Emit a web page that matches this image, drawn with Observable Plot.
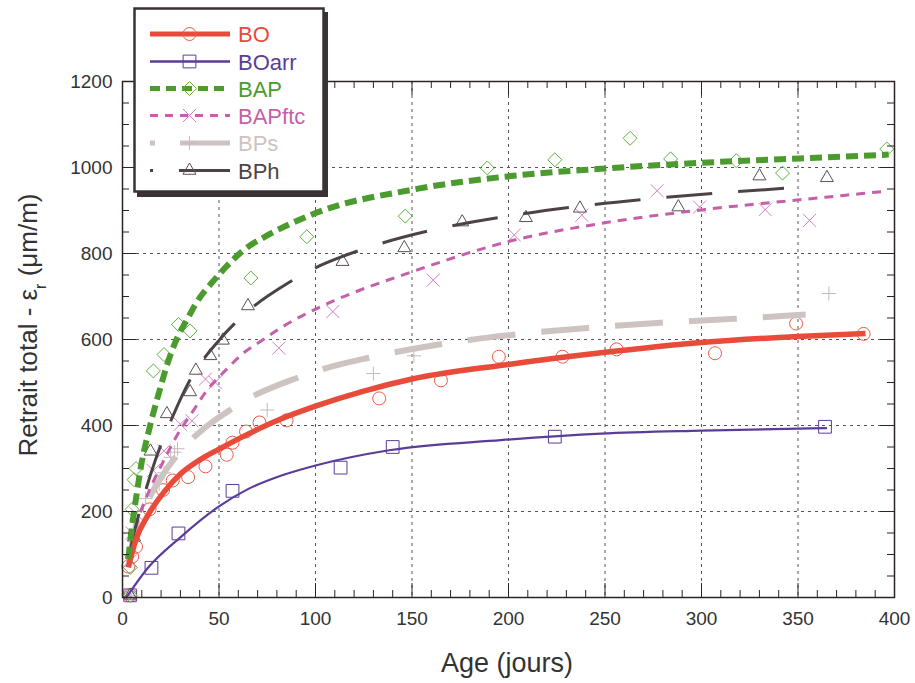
<!DOCTYPE html>
<html><head><meta charset="utf-8">
<script src="https://cdn.jsdelivr.net/npm/d3@7"></script>
<script src="https://cdn.jsdelivr.net/npm/@observablehq/plot@0.6"></script>
<style>
body{margin:0;background:#fff;}
#wrap{position:relative;width:915px;height:683px;overflow:hidden;}
#wrap svg{display:block;}
#legend{position:absolute;left:0;top:0;pointer-events:none;}
</style></head><body><div id="wrap"></div>
<script>
// ---- data ----
const seriesNames = ["BO", "BOarr", "BAP", "BAPftc", "BPs", "BPh"];
const xMajor = [0, 50, 100, 150, 200, 250, 300, 350, 400];
const yMajor = [0, 200, 400, 600, 800, 1000, 1200];

// measured points
const boAge = [4, 3, 5, 7, 14, 21, 26, 34, 43, 54, 57, 64, 71, 85, 133, 165, 195, 228, 256, 307, 349, 384];
const boVal = [5, 72, 95, 118, 205, 250, 272, 280, 305, 332, 360, 386, 407, 412, 463, 505, 560, 560, 577, 568, 637, 613];
const boarrAge = [4, 15, 29, 57, 113, 140, 224, 364];
const boarrVal = [5, 69, 149, 248, 302, 350, 374, 397];
const bapAge = [4, 4, 5, 6, 7, 16, 21.5, 29, 35, 66.5, 95.5, 146.5, 189, 224, 263, 284, 318, 342, 396];
const bapVal = [5, 70, 205, 274, 300, 527, 565, 635, 620, 743, 839, 887, 999, 1018, 1068, 1020, 1016, 987, 1043];
const ftcAge = [4, 4, 5, 7, 16, 21.5, 30, 36, 43, 48, 81, 109, 161, 203, 238, 277, 299, 333, 356];
const ftcVal = [5, 85, 150, 195, 295, 341, 403, 411, 508, 500, 580, 665, 738, 843, 889, 946, 908, 902, 877];
const bpsAge = [4, 7, 12, 19, 21.5, 25, 27, 28.5, 75, 130, 151, 366];
const bpsVal = [5, 160, 230, 264, 290, 326, 338, 346, 436, 521, 562, 707];
const bphAge = [4, 6, 14.5, 23, 35, 38, 45.5, 52, 65, 114, 146, 176, 209, 237, 288, 330, 365];
const bphVal = [5, 140, 340, 427, 478, 528, 562, 598, 678, 781, 813, 873, 883, 905, 908, 980, 976];

// fitted curves
const boFitAge = [3, 7, 13, 22, 30, 40, 50, 65, 82, 100, 125, 150, 200, 248, 300, 350, 385];
const boFitVal = [70, 135, 190, 248, 287, 320, 345, 380, 415, 445, 480, 508, 542, 569, 593, 607, 614];
const boarrFitAge = [2, 13, 30, 50, 65, 82, 100, 139, 196, 248, 300, 365];
const boarrFitVal = [0, 68, 140, 212, 252, 283, 307, 343, 366, 381, 388, 394];
const bapFitAge = [3, 4.5, 6, 7.5, 9.5, 13.5, 19, 24.5, 28.5, 33.5, 39.5, 46.5, 56.5, 62, 75, 92, 100, 151, 201, 248, 300, 351, 397];
const bapFitVal = [90, 150, 200, 245, 303, 385, 478, 560, 605, 647, 694, 733, 782, 805, 842, 879, 894, 949, 980, 997, 1011, 1021, 1030];
const ftcFitAge = [3, 8, 14, 21, 28, 36, 43, 54, 62, 72, 82, 93, 109, 151, 201, 248, 301, 351, 396];
const ftcFitVal = [90, 180, 250, 315, 375, 430, 477, 531, 566, 597, 627, 655, 689, 759, 829, 870, 902, 925, 945];
const bpsFitAge = [3, 6, 12, 19, 30, 43, 53, 65, 90, 103, 127, 166, 204, 241, 279, 317, 354];
const bpsFitVal = [70, 150, 215, 272, 340, 396, 428, 462, 510, 530, 557, 590, 612, 627, 639, 648, 658];
const bphFitAge = [3, 6, 12, 17, 27, 34, 50, 64, 86, 102, 124, 162, 200, 237, 275, 313, 351];
const bphFitVal = [90, 150, 249, 319, 431, 498, 598, 662, 732, 771, 809, 856, 887, 910, 928, 942, 954];

// ---- styles ----
const colors = {BO: "#e84b3a", BOarr: "#5a3d98", BAP: "#4c9b2e", BAPftc: "#c55fa9", BPs: "#cdc4c1", BPh: "#4d4346"};
const markColors = {BO: "#ee5a48", BOarr: "#5a3d98", BAP: "#5db040", BAPftc: "#d17fc1", BPs: "#c5bab7", BPh: "#5a5054"};

const rows = (a, b) => a.map((t, i) => ({t, v: b[i]}));
const W = 915, H = 683, mL = 122, mR = 21, mT = 81, mB = 86;
const iw = W - mL - mR, ih = H - mT - mB;
const xMinor = d3.range(0, 401, 10).filter(d => d % 50 !== 0);
const yMinor = d3.range(0, 1201, 50).filter(d => d % 200 !== 0);
const frameC = "#2b2326";
const font = "'Liberation Sans', Arial, Helvetica, sans-serif";

const dots = (a, b, name, symbol, r) => Plot.dot(rows(a, b), {x: "t", y: "v", symbol, r, stroke: markColors[name], fill: "none", strokeWidth: 1});
const line = (a, b, name, w, dash) => Plot.line(rows(a, b), {x: "t", y: "v", stroke: colors[name], strokeWidth: w, strokeDasharray: dash, curve: "monotone-x", strokeLinecap: "butt"});

const chart = Plot.plot({
  width: W, height: H,
  marginLeft: mL, marginRight: mR, marginTop: mT, marginBottom: mB,
  x: {domain: [0, 400], axis: null},
  y: {domain: [0, 1200], axis: null},
  style: {fontFamily: font, background: "white", color: "#333"},
  marks: [
    Plot.ruleX(xMajor.slice(1, -1), {stroke: "#555", strokeDasharray: "3,4", strokeWidth: 1}),
    Plot.ruleY(yMajor.slice(1, -1), {stroke: "#555", strokeDasharray: "3,4", strokeWidth: 1}),
    dots(boAge, boVal, "BO", "circle", 6.5),
    dots(boarrAge, boarrVal, "BOarr", "square", 7.2),
    dots(bapAge, bapVal, "BAP", "diamond2", 6.3),
    dots(ftcAge, ftcVal, "BAPftc", "times", 6),
    dots(bpsAge, bpsVal, "BPs", "plus", 4.6),
    dots(bphAge, bphVal, "BPh", "triangle2", 6.2),
    line(bpsFitAge, bpsFitVal, "BPs", 6, "48,26"),
    line(ftcFitAge, ftcFitVal, "BAPftc", 3, "9,7"),
    line(bphFitAge, bphFitVal, "BPh", 3, "46,26"),
    line(boarrFitAge, boarrFitVal, "BOarr", 2.2),
    line(boFitAge, boFitVal, "BO", 5.5),
    line(bapFitAge, bapFitVal, "BAP", 6, "12,6"),
    // ticks (inward)
    Plot.tickX(xMinor, {x: d => d, insetTop: ih - 7, stroke: frameC}),
    Plot.tickX(xMinor, {x: d => d, insetBottom: ih - 7, stroke: frameC}),
    Plot.tickX(xMajor, {x: d => d, insetTop: ih - 14, stroke: frameC}),
    Plot.tickX(xMajor, {x: d => d, insetBottom: ih - 14, stroke: frameC}),
    Plot.tickY(yMinor, {y: d => d, insetRight: iw - 7, stroke: frameC}),
    Plot.tickY(yMinor, {y: d => d, insetLeft: iw - 7, stroke: frameC}),
    Plot.tickY(yMajor, {y: d => d, insetRight: iw - 14, stroke: frameC}),
    Plot.tickY(yMajor, {y: d => d, insetLeft: iw - 14, stroke: frameC}),
    Plot.frame({stroke: frameC, strokeWidth: 1.5}),
    Plot.axisX(xMajor, {anchor: "bottom", tickSize: 0, tickPadding: 14, fontSize: 19, label: null, fill: "#333", tickFormat: d => String(d)}),
    Plot.axisY(yMajor, {anchor: "left", tickSize: 0, tickPadding: 10, fontSize: 19, label: null, fill: "#333", tickFormat: d => String(d)})
  ]
});

const wrap = document.getElementById("wrap");
wrap.appendChild(chart);

// axis titles
const svg = d3.select(chart);
svg.append("text").attr("x", 507).attr("y", 672).attr("text-anchor", "middle")
  .attr("font-family", font).attr("font-size", 27).attr("fill", "#333").text("Age (jours)");
const yt = svg.append("text").attr("transform", "translate(37,325) rotate(-90)").attr("text-anchor", "middle")
  .attr("font-family", font).attr("font-size", 26).attr("fill", "#333");
yt.append("tspan").text("Retrait total - ε");
yt.append("tspan").attr("baseline-shift", "sub").attr("font-size", 16).text("r");
yt.append("tspan").text(" (μm/m)");

// legend overlay
const leg = d3.select(wrap).append("svg").attr("id", "legend").attr("width", W).attr("height", H);
leg.append("rect").attr("x", 137).attr("y", 12).attr("width", 191).attr("height", 185).attr("fill", "#3a3235");
leg.append("rect").attr("x", 134.5).attr("y", 8.5).attr("width", 189).attr("height", 183)
  .attr("fill", "white").attr("stroke", "#3a3235").attr("stroke-width", 2.5);
const legStyles = [
  {name: "BO", w: 5, dash: null, sym: d3.symbolCircle, size: Math.PI * 6.5 * 6.5},
  {name: "BOarr", w: 2.5, dash: null, sym: d3.symbolSquare, size: Math.PI * 7.2 * 7.2},
  {name: "BAP", w: 5, dash: "10,6", sym: d3.symbolDiamond2, size: Math.PI * 6.3 * 6.3},
  {name: "BAPftc", w: 3, dash: "8,7", sym: d3.symbolTimes, size: Math.PI * 6 * 6},
  {name: "BPs", w: 5, dash: "5,25,60", sym: d3.symbolPlus, size: Math.PI * 4.6 * 4.6},
  {name: "BPh", w: 3, dash: "3,26,60", sym: d3.symbolTriangle2, size: Math.PI * 6.2 * 6.2}
];
const rowY = [34, 61.5, 88.5, 115.5, 143, 170.5];
legStyles.forEach((s, i) => {
  const y = rowY[i];
  leg.append("line").attr("x1", 150).attr("x2", 230).attr("y1", y).attr("y2", y)
    .attr("stroke", colors[s.name]).attr("stroke-width", s.w).attr("stroke-dasharray", s.dash);
  leg.append("path").attr("transform", `translate(189.5,${y})`).attr("d", d3.symbol(s.sym, s.size)())
    .attr("fill", "none").attr("stroke", markColors[s.name]).attr("stroke-width", 1);
  leg.append("text").attr("x", 238).attr("y", y + 8).attr("font-family", font).attr("font-size", 22)
    .attr("fill", colors[s.name]).text(seriesNames[i]);
});
</script>
</body></html>
